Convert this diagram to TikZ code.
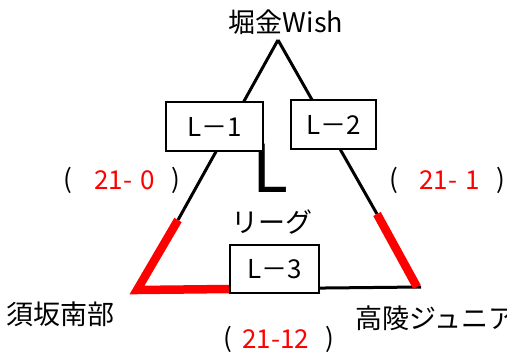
\documentclass[tikz,border=0pt]{standalone}
\usepackage{fontspec}
\setmainfont{Noto Sans CJK JP}
\begin{document}
\begin{tikzpicture}[x=1pt,y=-1pt,
  blk/.style={line width=3pt,black},
  redl/.style={line width=8.5pt,red,line join=miter},
  lbox/.style={draw,line width=1.2pt,fill=white,inner sep=0pt,font=\fontsize{26}{26}\selectfont},
  jp/.style={inner sep=0pt,font=\fontsize{27}{27}\selectfont},
  sc/.style={inner sep=0pt,font=\fontsize{26}{26}\selectfont}]
\useasboundingbox (0,0) rectangle (507,353);
% triangle corners
\coordinate (apex) at (278,40);
\coordinate (bl) at (137,290);
\coordinate (br) at (421,287);
\coordinate (lr) at (178,220);
\coordinate (rr) at (377,214);
\coordinate (rb) at (417,287);
\coordinate (l3w) at (230,289);
% big L behind box
\node[inner sep=0pt,anchor=base west,font=\fontsize{66}{66}\selectfont] (bigL) at (252,192.5) {L};
% edges
\draw[blk] (apex) -- (lr);
\draw[blk] (apex) -- (rr);
\draw[blk] (l3w) -- (br);
\draw[redl] (lr) -- (bl) -- (l3w);
\draw[redl] (rr) -- (rb);
% boxes
\node[lbox,minimum width=97pt,minimum height=49pt] (L1) at (214.5,126.5) {L－1};
\node[lbox,minimum width=85pt,minimum height=49pt] (L2) at (333.5,124.5) {L－2};
\node[lbox,minimum width=89pt,minimum height=48pt] (L3) at (274.5,269) {L－3};
% labels
\node[jp] (top) at (286,22) {堀金Wish};
\node[jp,anchor=west] (sl) at (6,314) {須坂南部};
\node[jp,anchor=west] (sr) at (355,318) {高陵ジュニア};
\node[jp] (lg) at (272,222) {リーグ};
% scores
\node[sc] (p1) at (68,180) {(};
\node[sc,red,anchor=west] (s1) at (94,180) {21-\hspace{8pt}0};
\node[sc] (q1) at (176,180) {)};
\node[sc] (p2) at (394,180) {(};
\node[sc,red,anchor=west] (s2) at (419,180) {21-\hspace{8pt}1};
\node[sc] (q2) at (501,180) {)};
\node[sc] (p3) at (228,339) {(};
\node[sc,red,anchor=west] (s3) at (242,339) {21-12};
\node[sc] (q3) at (330,339) {)};
\end{tikzpicture}
\end{document}
